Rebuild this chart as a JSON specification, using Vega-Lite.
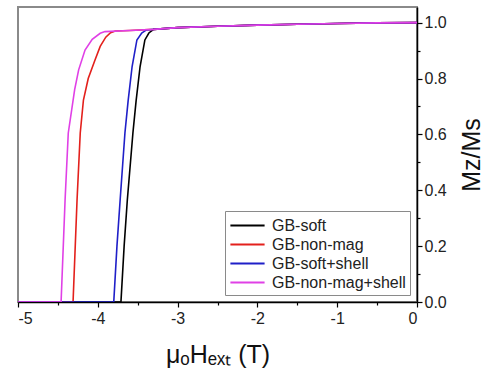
{
  "$schema": "https://vega.github.io/schema/vega-lite/v6.json",
  "autosize": {"type": "none"},
  "padding": {"left": 18, "top": 7, "right": 77, "bottom": 72},
  "width": 399,
  "height": 295,
  "background": "white",
  "config": {
    "font": "Liberation Sans",
    "view": {"stroke": "#8a8a8a", "strokeWidth": 2},
    "axis": {"grid": false}
  },
  "data": {
    "values": [
      {"series": "GB-soft", "h": -5, "m": 0},
      {"series": "GB-soft", "h": -3.71, "m": 0},
      {"series": "GB-soft", "h": -3.67, "m": 0.2},
      {"series": "GB-soft", "h": -3.63, "m": 0.365},
      {"series": "GB-soft", "h": -3.56, "m": 0.605},
      {"series": "GB-soft", "h": -3.52, "m": 0.72},
      {"series": "GB-soft", "h": -3.47, "m": 0.843},
      {"series": "GB-soft", "h": -3.41, "m": 0.938},
      {"series": "GB-soft", "h": -3.36, "m": 0.963},
      {"series": "GB-soft", "h": -3.3, "m": 0.976},
      {"series": "GB-soft", "h": -3.0, "m": 0.982},
      {"series": "GB-soft", "h": -2.5, "m": 0.987},
      {"series": "GB-soft", "h": -2.0, "m": 0.991},
      {"series": "GB-soft", "h": -1.5, "m": 0.994},
      {"series": "GB-soft", "h": -1.0, "m": 0.997},
      {"series": "GB-soft", "h": -0.5, "m": 0.999},
      {"series": "GB-soft", "h": 0, "m": 1.0},
      {"series": "GB-non-mag", "h": -5, "m": 0},
      {"series": "GB-non-mag", "h": -4.31, "m": 0},
      {"series": "GB-non-mag", "h": -4.26, "m": 0.365},
      {"series": "GB-non-mag", "h": -4.22, "m": 0.605},
      {"series": "GB-non-mag", "h": -4.18, "m": 0.723},
      {"series": "GB-non-mag", "h": -4.12, "m": 0.8},
      {"series": "GB-non-mag", "h": -4.035, "m": 0.866},
      {"series": "GB-non-mag", "h": -3.97, "m": 0.915},
      {"series": "GB-non-mag", "h": -3.9, "m": 0.948},
      {"series": "GB-non-mag", "h": -3.84, "m": 0.964},
      {"series": "GB-non-mag", "h": -3.78, "m": 0.97},
      {"series": "GB-non-mag", "h": -3.6, "m": 0.972},
      {"series": "GB-non-mag", "h": -3.3, "m": 0.976},
      {"series": "GB-non-mag", "h": -3.0, "m": 0.982},
      {"series": "GB-non-mag", "h": -2.5, "m": 0.987},
      {"series": "GB-non-mag", "h": -2.0, "m": 0.991},
      {"series": "GB-non-mag", "h": -1.5, "m": 0.994},
      {"series": "GB-non-mag", "h": -1.0, "m": 0.997},
      {"series": "GB-non-mag", "h": -0.5, "m": 0.999},
      {"series": "GB-non-mag", "h": 0, "m": 1.0},
      {"series": "GB-soft+shell", "h": -5, "m": 0},
      {"series": "GB-soft+shell", "h": -3.8, "m": 0},
      {"series": "GB-soft+shell", "h": -3.76, "m": 0.2},
      {"series": "GB-soft+shell", "h": -3.72, "m": 0.365},
      {"series": "GB-soft+shell", "h": -3.66, "m": 0.605},
      {"series": "GB-soft+shell", "h": -3.62, "m": 0.72},
      {"series": "GB-soft+shell", "h": -3.57, "m": 0.843},
      {"series": "GB-soft+shell", "h": -3.51, "m": 0.938},
      {"series": "GB-soft+shell", "h": -3.45, "m": 0.963},
      {"series": "GB-soft+shell", "h": -3.39, "m": 0.974},
      {"series": "GB-soft+shell", "h": -3.3, "m": 0.976},
      {"series": "GB-soft+shell", "h": -3.0, "m": 0.982},
      {"series": "GB-soft+shell", "h": -2.5, "m": 0.987},
      {"series": "GB-soft+shell", "h": -2.0, "m": 0.991},
      {"series": "GB-soft+shell", "h": -1.5, "m": 0.994},
      {"series": "GB-soft+shell", "h": -1.0, "m": 0.997},
      {"series": "GB-soft+shell", "h": -0.5, "m": 0.999},
      {"series": "GB-soft+shell", "h": 0, "m": 1.0},
      {"series": "GB-non-mag+shell", "h": -5, "m": 0},
      {"series": "GB-non-mag+shell", "h": -4.46, "m": 0},
      {"series": "GB-non-mag+shell", "h": -4.41, "m": 0.365},
      {"series": "GB-non-mag+shell", "h": -4.37, "m": 0.605},
      {"series": "GB-non-mag+shell", "h": -4.29, "m": 0.76},
      {"series": "GB-non-mag+shell", "h": -4.24, "m": 0.831},
      {"series": "GB-non-mag+shell", "h": -4.16, "m": 0.902},
      {"series": "GB-non-mag+shell", "h": -4.07, "m": 0.94},
      {"series": "GB-non-mag+shell", "h": -3.97, "m": 0.962},
      {"series": "GB-non-mag+shell", "h": -3.91, "m": 0.968},
      {"series": "GB-non-mag+shell", "h": -3.6, "m": 0.972},
      {"series": "GB-non-mag+shell", "h": -3.3, "m": 0.976},
      {"series": "GB-non-mag+shell", "h": -3.0, "m": 0.982},
      {"series": "GB-non-mag+shell", "h": -2.5, "m": 0.987},
      {"series": "GB-non-mag+shell", "h": -2.0, "m": 0.991},
      {"series": "GB-non-mag+shell", "h": -1.5, "m": 0.994},
      {"series": "GB-non-mag+shell", "h": -1.0, "m": 0.997},
      {"series": "GB-non-mag+shell", "h": -0.5, "m": 0.999},
      {"series": "GB-non-mag+shell", "h": 0, "m": 1.0}
    ]
  },
  "layer": [
    {
      "mark": {"type": "line", "strokeWidth": 1.6, "clip": true},
      "encoding": {
        "x": {
          "field": "h", "type": "quantitative",
          "scale": {"domain": [-5, 0], "nice": false, "zero": false},
          "axis": {
            "orient": "bottom", "values": [-5, -4, -3, -2, -1, 0], "labelExpr": "toString(datum.value)",
            "domainColor": "black", "domainWidth": 1.5, "tickColor": "black", "tickWidth": 1.2, "tickSize": 5,
            "labelFontSize": 16, "labelColor": "#222", "labelPadding": 3,
            "title": "μₒHₑₓₜ (T)", "titleFontSize": 25, "titleFontWeight": "normal", "titleColor": "#111",
            "titleX": 199.5, "titleY": 60, "titleBaseline": "alphabetic", "titleAlign": "center"
          }
        },
        "y": {
          "field": "m", "type": "quantitative",
          "scale": {"domain": [0, 1.056], "nice": false},
          "axis": {
            "orient": "right", "values": [0, 0.2, 0.4, 0.6, 0.8, 1.0], "format": ".1f",
            "domainColor": "black", "domainWidth": 1.5, "tickColor": "black", "tickWidth": 1.2, "tickSize": 5,
            "labelFontSize": 16, "labelColor": "#222", "labelPadding": 2,
            "title": "Mz/Ms", "titleFontSize": 25, "titleFontWeight": "normal", "titleColor": "#111",
            "titleAngle": 270, "titleX": 54, "titleY": 147.5, "titleAlign": "center", "titleBaseline": "middle"
          }
        },
        "color": {
          "field": "series", "type": "nominal",
          "scale": {
            "domain": ["GB-soft", "GB-non-mag", "GB-soft+shell", "GB-non-mag+shell"],
            "range": ["#000000", "#e3201c", "#1f1fc8", "#e040e6"]
          },
          "legend": {
            "title": null, "orient": "bottom-right", "offset": 7,
            "symbolType": "M-1.8,0H1.8", "symbolSize": 361, "symbolStrokeWidth": 2, "symbolOffset": 8,
            "labelFontSize": 16, "labelColor": "#222", "labelOffset": 14,
            "rowPadding": 0, "padding": 4,
            "strokeColor": "#8a8a8a", "fillColor": "white"
          }
        }
      }
    },
    {
      "mark": {"type": "line", "opacity": 0},
      "encoding": {
        "x": {
          "field": "h", "type": "quantitative",
          "axis": {
            "orient": "bottom", "values": [-4.5, -3.5, -2.5, -1.5, -0.5], "labels": false, "domain": false,
            "tickColor": "black", "tickWidth": 1.2, "tickSize": 3, "title": null
          }
        },
        "y": {
          "field": "m", "type": "quantitative",
          "axis": {
            "orient": "right", "values": [0.1, 0.3, 0.5, 0.7, 0.9], "labels": false, "domain": false,
            "tickColor": "black", "tickWidth": 1.2, "tickSize": 3, "title": null
          }
        },
        "detail": {"field": "series"}
      }
    }
  ],
  "resolve": {"axis": {"x": "independent", "y": "independent"}}
}
